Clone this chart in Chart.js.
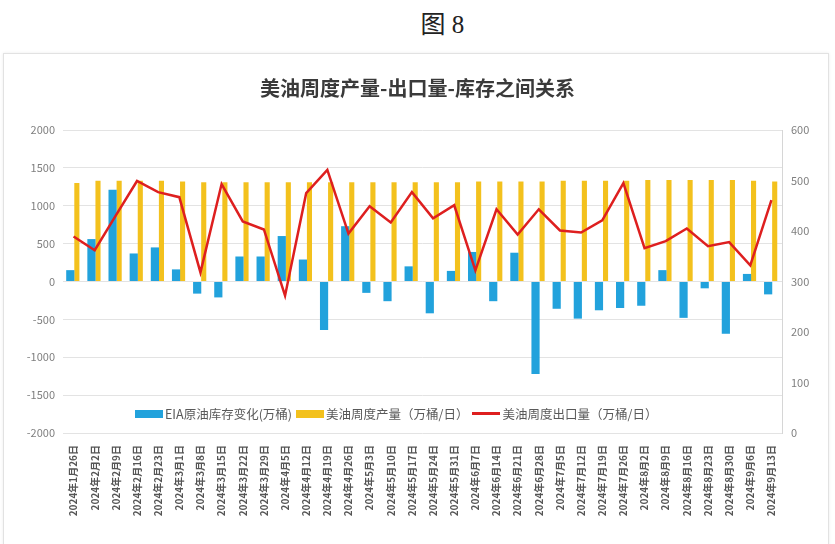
<!DOCTYPE html>
<html>
<head>
<meta charset="utf-8">
<script src="https://cdn.jsdelivr.net/npm/chart.js@4.4.1/dist/chart.umd.min.js"></script>
<style>
    body { margin: 0; background: #fff; width: 835px; height: 544px; position: relative; overflow: hidden; }
    #fig { position: absolute; left: 0; top: 4px; width: 885px; text-align: center; font: 25px "Liberation Serif", "Noto Sans CJK SC", serif; color: #222; }
    #box { position: absolute; left: 3px; top: 53px; width: 824px; height: 500px; border: 1px solid #e2e2e2; box-shadow: 0 0 3px rgba(0,0,0,0.08); }
    #wrap { position: absolute; left: 0; top: 0; width: 835px; height: 544px; }
    #legend { position: absolute; left: 135px; top: 404px; display: flex; align-items: center; font: 12.5px "Noto Sans CJK SC", sans-serif; color: #595959; white-space: nowrap; }
    #legend span.sw { display: inline-block; width: 28px; margin-right: 2px; }
    #legend .item { display: flex; align-items: center; margin-right: 4px; }
</style>
</head>
<body>
<div id="fig">图 8</div>
<div id="box"></div>
<div id="wrap"><canvas id="oilChart" width="835" height="544"></canvas></div>
<div id="legend"></div>
<script>
const dates = [
    '2024年1月26日', '2024年2月2日', '2024年2月9日', '2024年2月16日', '2024年2月23日',
    '2024年3月1日', '2024年3月8日', '2024年3月15日', '2024年3月22日', '2024年3月29日',
    '2024年4月5日', '2024年4月12日', '2024年4月19日', '2024年4月26日', '2024年5月3日',
    '2024年5月10日', '2024年5月17日', '2024年5月24日', '2024年5月31日', '2024年6月7日',
    '2024年6月14日', '2024年6月21日', '2024年6月28日', '2024年7月5日', '2024年7月12日',
    '2024年7月19日', '2024年7月26日', '2024年8月2日', '2024年8月9日', '2024年8月16日',
    '2024年8月23日', '2024年8月30日', '2024年9月6日', '2024年9月13日'
];

// EIA原油库存变化 (万桶)
const stockChange = [
    150, 560, 1210, 370, 450, 160, -160, -210, 330, 330,
    600, 290, -640, 730, -150, -260, 200, -420, 140, 390,
    -260, 380, -1220, -360, -490, -380, -350, -320, 150, -480,
    -90, -690, 100, -170
];

// 美油周度产量 (万桶/日)
const production = [
    1300, 1330, 1330, 1330, 1330, 1320, 1310, 1310, 1310, 1310,
    1310, 1310, 1310, 1310, 1310, 1310, 1310, 1310, 1310, 1320,
    1320, 1320, 1320, 1330, 1330, 1330, 1330, 1340, 1340, 1340,
    1340, 1340, 1330, 1320
];

// 美油周度出口量 (万桶/日)
const exports = [
    389, 362, 431, 499, 477, 467, 318, 493, 419, 403,
    272, 475, 521, 395, 449, 417, 477, 425, 451, 322,
    443, 393, 443, 401, 397, 421, 495, 366, 380, 405,
    370, 378, 332, 461
];

const leftTicks = [-2000, 2000, 500];
const rightTicks = [0, 600, 100];

const cjk = '"Noto Sans CJK SC", "Noto Sans", sans-serif';

const ctx = document.getElementById('oilChart').getContext('2d');
const oilChart = new Chart(ctx, {
    type: 'bar',
    data: {
        labels: dates,
        datasets: [{
            label: 'EIA原油库存变化(万桶)',
            data: stockChange,
            backgroundColor: '#22a2dc',
            barPercentage: 1.25,
            yAxisID: 'y',
            order: 2
        }, {
            label: '美油周度产量（万桶/日）',
            data: production,
            backgroundColor: '#f3c11d',
            barPercentage: 0.78,
            yAxisID: 'y',
            order: 3
        }, {
            type: 'line',
            label: '美油周度出口量（万桶/日）',
            data: exports,
            borderColor: '#de1f1f',
            backgroundColor: '#de1f1f',
            borderWidth: 2.5,
            pointRadius: 0,
            tension: 0,
            yAxisID: 'y1',
            order: 1
        }]
    },
    options: {
        responsive: false,
        animation: false,
        categoryPercentage: 0.62,
        layout: { padding: 0 },
        plugins: {
            legend: { display: false },
            tooltip: { enabled: false },
            title: {
                display: true,
                text: '美油周度产量-出口量-库存之间关系',
                color: '#3a3a3a',
                font: { family: cjk, size: 20, weight: 'bold', lineHeight: 1.2 },
                padding: { top: 76, bottom: 30 }
            }
        },
        scales: {
            x: {
                grid: { display: false },
                border: { display: false },
                ticks: {
                    autoSkip: false,
                    minRotation: 90,
                    maxRotation: 90,
                    padding: 4,
                    color: '#555',
                    font: { family: cjk, size: 10, weight: 'bold' }
                },
                afterFit: (s) => { s.height = 111; }
            },
            y: {
                position: 'left',
                min: leftTicks[0],
                max: leftTicks[1],
                ticks: {
                    stepSize: leftTicks[2],
                    padding: 8,
                    color: '#7f7f7f',
                    font: { family: cjk, size: 11 },
                    callback: (v) => String(v)
                },
                grid: { color: '#e3e3e3', drawTicks: false },
                border: { display: false },
                afterFit: (s) => { s.width = 63; }
            },
            y1: {
                position: 'right',
                min: rightTicks[0],
                max: rightTicks[1],
                ticks: {
                    stepSize: rightTicks[2],
                    padding: 9,
                    color: '#7f7f7f',
                    font: { family: cjk, size: 11 },
                    callback: (v) => String(v)
                },
                grid: { drawOnChartArea: false, drawTicks: false },
                border: { display: true, color: '#d6d6d6' },
                afterFit: (s) => { s.width = 53; }
            }
        }
    }
});

// legend placed inside the plot, like the original
const legend = document.getElementById('legend');
oilChart.data.datasets.forEach((ds) => {
    const item = document.createElement('div');
    item.className = 'item';
    const sw = document.createElement('span');
    sw.className = 'sw';
    if (ds.type === 'line') {
        sw.style.height = '3px';
        sw.style.background = ds.borderColor;
    } else {
        sw.style.height = '8px';
        sw.style.background = ds.backgroundColor;
    }
    item.appendChild(sw);
    item.appendChild(document.createTextNode(ds.label));
    legend.appendChild(item);
});
</script>
</body>
</html>
